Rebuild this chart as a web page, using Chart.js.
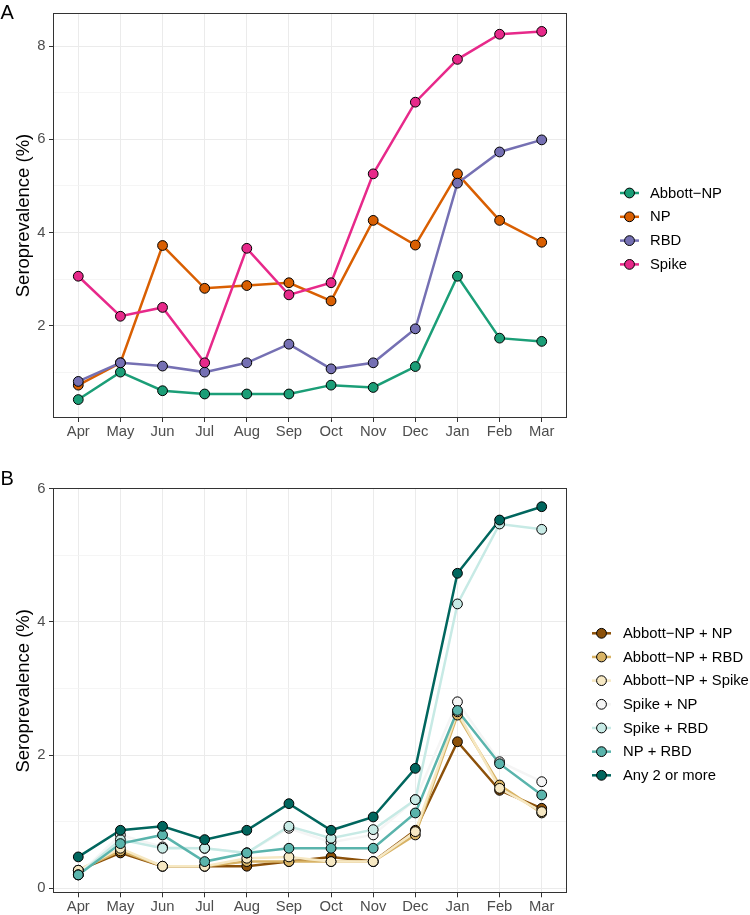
<!DOCTYPE html>
<html><head><meta charset="utf-8">
<script src="https://cdn.jsdelivr.net/npm/chart.js@4.4.1/dist/chart.umd.min.js"></script>
<style>
body{margin:0;background:#fff;width:750px;height:915px;overflow:hidden}
canvas{position:absolute;left:0}
#ca{top:0}
#cb{top:460px}
</style>
</head><body>
<canvas id="ca" width="750" height="460"></canvas>
<canvas id="cb" width="750" height="455"></canvas>
<script>
const months = ["Apr","May","Jun","Jul","Aug","Sep","Oct","Nov","Dec","Jan","Feb","Mar"];

// Panel A series
const labelsA = ["Abbott\u2212NP","NP","RBD","Spike"];
const colorsA = ["#1B9E77","#D95F02","#7570B3","#E7298A"];
const abbottNP = [0.41,1.00,0.60,0.53,0.53,0.53,0.72,0.67,1.12,3.06,1.73,1.66];
const np       = [0.72,1.20,3.72,2.80,2.86,2.92,2.53,4.26,3.73,5.26,4.26,3.79];
const rbd      = [0.80,1.20,1.13,1.00,1.20,1.60,1.07,1.20,1.93,5.06,5.73,5.99];
const spike    = [3.06,2.20,2.39,1.20,3.66,2.66,2.92,5.26,6.80,7.72,8.26,8.32];
const yTicksA  = [1,2,3,4,5,6,7,8];

// Panel B series
const labelsB = ["Abbott\u2212NP + NP","Abbott\u2212NP + RBD","Abbott\u2212NP + Spike","Spike + NP","Spike + RBD","NP + RBD","Any 2 or more"];
const colorsB = ["#8C510A","#D8B365","#F6E8C3","#F5F5F5","#C7EAE5","#5AB4AC","#01665E"];
const abbottNP_NP    = [0.27,0.53,0.33,0.33,0.33,0.40,0.47,0.40,0.87,2.20,1.47,1.20];
const abbottNP_RBD   = [0.27,0.56,0.33,0.33,0.40,0.40,0.40,0.40,0.80,2.60,1.55,1.13];
const abbottNP_Spike = [0.27,0.60,0.33,0.33,0.45,0.47,0.40,0.40,0.85,2.65,1.50,1.15];
const spike_NP       = [0.20,0.80,0.62,0.60,0.53,0.90,0.69,0.80,1.33,2.80,1.90,1.60];
const spike_RBD      = [0.20,0.73,0.60,0.60,0.53,0.93,0.75,0.88,1.33,4.27,5.47,5.39];
const np_RBD         = [0.20,0.67,0.80,0.40,0.53,0.60,0.60,0.60,1.13,2.67,1.87,1.40];
const any2           = [0.47,0.87,0.93,0.73,0.87,1.27,0.87,1.07,1.80,4.73,5.53,5.73];
const yTicksB  = [0,1,2,3,4,5,6];

const FONT = "'Liberation Sans', Arial, Helvetica, sans-serif";

function makeChart(canvasId, cfg) {
  const ds = [];
  cfg.series.forEach((vals, k) => {
    const pts = vals.map((v, i) => ({x: i, y: v}));
    ds.push({label: cfg.labels[k] + ' line', data: pts, borderColor: cfg.colors[k], borderWidth: 2.5,
      pointRadius: 0, pointHoverRadius: 0, fill: false, tension: 0, order: 100 - k});
    ds.push({label: cfg.labels[k], data: pts, showLine: false, pointRadius: 4.9, pointHoverRadius: 4.9,
      pointBackgroundColor: cfg.colors[k], pointBorderColor: '#000', pointBorderWidth: 1,
      borderColor: cfg.colors[k], order: 50 - k});
  });
  const H = cfg.canvasH;
  const decor = {
    id: 'decor',
    afterDraw(chart) {
      const ctx = chart.ctx, a = chart.chartArea;
      ctx.save();
      ctx.strokeStyle = '#333333';
      ctx.lineWidth = 1;
      ctx.strokeRect(Math.round(a.left) + 0.5, Math.round(a.top) + 0.5, Math.round(a.right - a.left) - 1, Math.round(a.bottom - a.top) - 1);
      // panel label
      ctx.fillStyle = '#000';
      ctx.font = '20px ' + FONT;
      ctx.textBaseline = 'alphabetic';
      ctx.textAlign = 'left';
      ctx.fillText(cfg.panel, 0.5, cfg.panelY);
      // legend
      ctx.font = '14.8px ' + FONT;
      ctx.textBaseline = 'middle';
      cfg.labels.forEach((lab, k) => {
        const y = cfg.legY0 + k * cfg.legStep;
        ctx.strokeStyle = cfg.colors[k];
        ctx.lineWidth = 2.5;
        ctx.beginPath();
        ctx.moveTo(cfg.legX0, y);
        ctx.lineTo(cfg.legX0 + 19, y);
        ctx.stroke();
        ctx.beginPath();
        ctx.arc(cfg.legX0 + 9.5, y, 4.9, 0, Math.PI * 2);
        ctx.fillStyle = cfg.colors[k];
        ctx.fill();
        ctx.lineWidth = 1;
        ctx.strokeStyle = '#000';
        ctx.stroke();
        ctx.fillStyle = '#000';
        ctx.fillText(lab, cfg.legText, y + 0.5);
      });
      ctx.restore();
    }
  };
  return new Chart(document.getElementById(canvasId), {
    type: 'line',
    data: {datasets: ds},
    options: {
      responsive: false,
      animation: false,
      events: [],
      layout: {padding: {left: 0, right: 750 - cfg.right, top: cfg.top, bottom: 0}},
      plugins: {legend: {display: false}, tooltip: {enabled: false}},
      scales: {
        x: {
          type: 'linear', min: -0.6, max: 11.6,
          afterBuildTicks: s => { s.ticks = months.map((m, i) => ({value: i})); },
          afterFit: s => { s.height = H - cfg.bottom; },
          ticks: {callback: v => months[v], color: '#4D4D4D', font: {size: 14.8, family: FONT},
            padding: 1, maxRotation: 0, autoSkip: false},
          grid: {color: '#EBEBEB', lineWidth: 1, tickLength: 4, tickColor: '#333333', drawTicks: true},
          border: {display: false}
        },
        y: {
          type: 'linear', min: cfg.yMin, max: cfg.yMax,
          afterBuildTicks: s => { s.ticks = cfg.yTicks.map(v => ({value: v})); },
          afterFit: s => { s.width = cfg.left; },
          ticks: {callback: v => (v % 2 === 0 ? String(v) : ''), color: '#4D4D4D',
            font: {size: 14.8, family: FONT}, padding: 3.5, autoSkip: false},
          grid: {
            color: c => (c.tick && c.tick.value % 2 === 0) ? '#EBEBEB' : '#F3F3F3',
            lineWidth: c => (c.tick && c.tick.value % 2 === 0) ? 1 : 0.8,
            tickLength: 4,
            tickColor: c => (c.tick && c.tick.value % 2 === 0) ? '#333333' : 'rgba(0,0,0,0)'
          },
          border: {display: false},
          title: {display: true, text: 'Seroprevalence (%)', color: '#000',
            font: {size: 18.5, family: FONT}, padding: {top: 13, bottom: 0}}
        }
      }
    },
    plugins: [decor]
  });
}

makeChart('ca', {
  series: [abbottNP, np, rbd, spike], labels: labelsA, colors: colorsA,
  canvasH: 460, left: 53, right: 567, top: 13, bottom: 418,
  yMin: 0.014, yMax: 8.716, yTicks: yTicksA,
  panel: 'A', panelY: 18.5, legY0: 193, legStep: 23.8, legX0: 620, legText: 650
});
makeChart('cb', {
  series: [abbottNP_NP, abbottNP_RBD, abbottNP_Spike, spike_NP, spike_RBD, np_RBD, any2],
  labels: labelsB, colors: colorsB,
  canvasH: 455, left: 53, right: 567, top: 28.3, bottom: 433.3,
  yMin: -0.0765, yMax: 6.0065, yTicks: yTicksB,
  panel: 'B', panelY: 25, legY0: 173.3, legStep: 23.67, legX0: 592, legText: 623
});
</script>
</body></html>
